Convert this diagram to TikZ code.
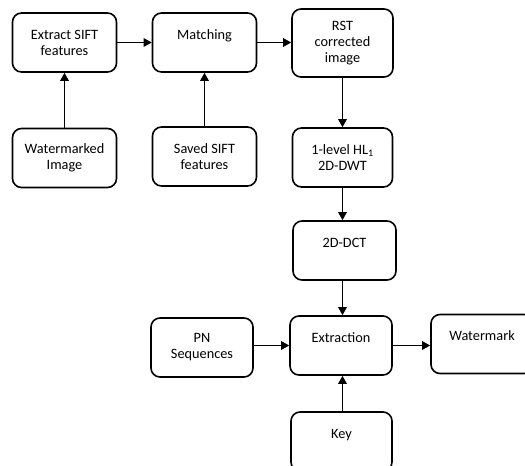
\documentclass[tikz,border=0pt]{standalone}
\usepackage{fontspec}
\setmainfont{Carlito}
\usetikzlibrary{arrows.meta}
\tikzset{
  box/.style={draw=black, line width=1.6pt, rounded corners=9pt, align=center,
    minimum width=#1, minimum height=59pt, inner sep=0pt, font=\fontsize{14.3}{16}\selectfont},
  box/.default=104pt,
  arr/.style={line width=1.3pt, -{Triangle[length=8pt,width=8.5pt]}}
}
\begin{document}
\begin{tikzpicture}[x=1pt, y=-1pt]
\useasboundingbox (0,0) rectangle (525,466);
\clip (0,0) rectangle (525,466);
\node[box] (ext) at (64.5,42.5) {Extract SIFT\\features};
\node[box] (mat) at (204.5,42.5) {Matching\\\mbox{}};
\node[box=101pt, minimum height=68pt] (rst) at (342.5,43) {RST\\corrected\\image};
\node[box] (wmi) at (64.5,158) {Watermarked\\Image};
\node[box] (sav) at (204.5,156.5) {Saved SIFT\\features};
\node[box=100pt] (lvl) at (342.5,157.5) {1-level HL\textsubscript{1}\\2D-DWT};
\node[box=103pt] (dct) at (344.5,250.5) {2D-DCT\\\mbox{}};
\node[box=102pt] (pn) at (202,347.5) {PN\\Sequences};
\node[box=102pt] (xtr) at (341,345.5) {Extraction\\\mbox{}};
\node[box=102pt] (wm) at (482,344) {Watermark\\\mbox{}};
\node[box=101pt] (key) at (341.5,441.5) {Key\\\mbox{}};
\draw[arr] (ext.east) -- (mat.west);
\draw[arr] (mat.east) -- (mat.east -| rst.west);
\draw[arr] (wmi.north) -- (ext.south);
\draw[arr] (sav.north) -- (mat.south);
\draw[arr] (rst.south) -- (rst.south |- lvl.north);
\draw[arr] (lvl.south) -- (lvl.south |- dct.north);
\draw[arr] (dct.south -| lvl.south) -- (lvl.south |- xtr.north);
\draw[arr] (pn.east |- xtr.west) -- (xtr.west);
\draw[arr] (xtr.east) -- (xtr.east -| wm.west);
\draw[arr] (key.north -| lvl.south) -- (lvl.south |- xtr.south);
\end{tikzpicture}
\end{document}
